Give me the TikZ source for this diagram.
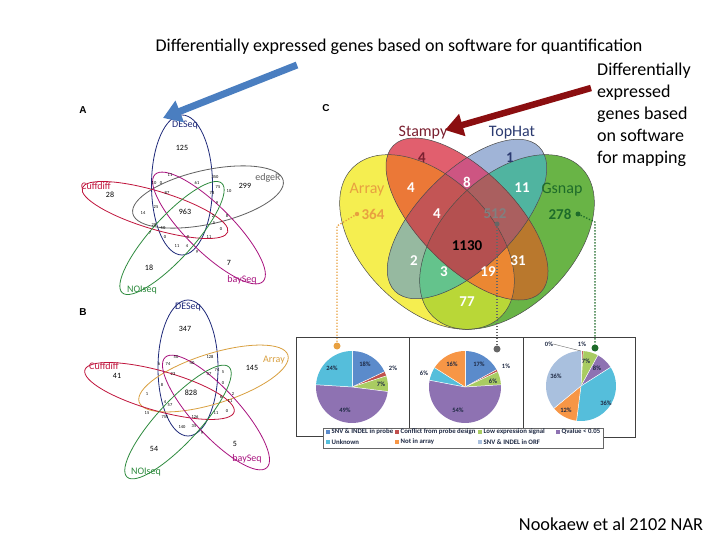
\documentclass[tikz,border=0pt]{standalone}
\usepackage{fontspec}
\setmainfont{Carlito}
\newfontfamily\lettersf{Liberation Sans}
\usetikzlibrary{arrows.meta}
\definecolor{navyv}{HTML}{1F2A7A}
\definecolor{grayv}{HTML}{606060}
\definecolor{crimv}{HTML}{C0143C}
\definecolor{magv}{HTML}{A8127E}
\definecolor{greenv}{HTML}{2E8B3E}
\definecolor{goldv}{HTML}{D9A040}
% venn C region colours
\definecolor{rA}{HTML}{F5EE50}
\definecolor{rD}{HTML}{69B446}
\definecolor{rB}{HTML}{E15F6E}
\definecolor{rC}{HTML}{A0B4D7}
\definecolor{rAD}{HTML}{B9D737}
\definecolor{rAB}{HTML}{EB7837}
\definecolor{rBC}{HTML}{CD5582}
\definecolor{rCD}{HTML}{50B4A0}
\definecolor{rAC}{HTML}{96B9A0}
\definecolor{rBD}{HTML}{B9782D}
\definecolor{rABC}{HTML}{C35555}
\definecolor{rBCD}{HTML}{AA5F5F}
\definecolor{rACD}{HTML}{64C38C}
\definecolor{rABD}{HTML}{EB8732}
\definecolor{rABCD}{HTML}{B45050}
\definecolor{cstampy}{HTML}{7A2030}
\definecolor{ctophat}{HTML}{2B3A70}
\definecolor{carray}{HTML}{E8A040}
\definecolor{cgsnap}{HTML}{1E6B2A}
\definecolor{snv}{HTML}{5B8BCB}
\definecolor{conf}{HTML}{C0504D}
\definecolor{low}{HTML}{A9CC62}
\definecolor{qv}{HTML}{8E72B2}
\definecolor{unk}{HTML}{55BEDB}
\definecolor{nia}{HTML}{F79646}
\definecolor{orf}{HTML}{A9C0DE}
\definecolor{pietext}{HTML}{1F2A44}
\definecolor{arrblue}{HTML}{4A7EC0}
\definecolor{arrred}{HTML}{8B0E10}
\newcommand{\mypie}[6]{%
  \fill[#6] (#1,#2) -- ++({-90+3.6*(#4)}:#3) arc[start angle={-90+3.6*(#4)}, end angle={-90+3.6*(#5)}, radius=#3] -- cycle;
  \draw[white, line width=0.5pt] (#1,#2) -- ++({-90+3.6*(#4)}:#3);}
% the four ellipses of panel C
\newcommand{\clipEA}{\clip[rotate around={-45:(427,242)}] (427,242) ellipse [x radius=105, y radius=65];}
\newcommand{\clipED}{\clip[rotate around={45:(507,242)}] (507,242) ellipse [x radius=105, y radius=65];}
\newcommand{\clipEB}{\clip[rotate around={-45:(467,219)}] (467,219) ellipse [x radius=104, y radius=48];}
\newcommand{\clipEC}{\clip[rotate around={45:(467,219)}] (467,219) ellipse [x radius=102, y radius=48];}
\newcommand{\paintall}[1]{\fill[#1] (300,100) rectangle (650,360);}
\tikzset{
  vline/.style={line width=0.8pt},
  vlab/.style={font=\fontsize{10}{11}\selectfont, inner sep=0pt},
  vnum/.style={font=\fontsize{8}{9}\selectfont, inner sep=0pt},
  vtiny/.style={font=\fontsize{4.5}{5}\selectfont, inner sep=0pt},
  clab/.style={font=\fontsize{16}{17}\selectfont, inner sep=0pt},
  cnum/.style={font=\bfseries\fontsize{15}{16}\selectfont, inner sep=0pt},
  plab/.style={font=\bfseries\fontsize{6.5}{7}\selectfont, inner sep=0pt, text=pietext},
  legtxt/.style={font=\bfseries\fontsize{6.8}{7}\selectfont, inner sep=0pt, anchor=west, text=pietext},
  panel/.style={font=\lettersf\bfseries\fontsize{10}{11}\selectfont, inner sep=0pt},
  bigarrow/.style={line width=7pt, -{Triangle[width=22pt,length=18pt]}},
  dotconn/.style={line width=1.3pt, dash pattern=on 1.3pt off 1.7pt},
  frame/.style={draw=black!75, line width=0.8pt},
  head/.style={font=\fontsize{18}{22}\selectfont, inner sep=0pt},
  eline/.style={draw=black!70, line width=0.5pt},
}
\begin{document}
\begin{tikzpicture}[x=1pt,y=-1pt]
\fill[white] (0,0) rectangle (720,540);
\useasboundingbox (0,0) rectangle (720,540);

% ---------- headings ----------
\node[head] (t1) at (399,47) {Differentially expressed genes based on software for quantification};
\node[head, anchor=base west] (m1) at (597,76) {Differentially};
\node[head, anchor=base west] (m2) at (597,98) {expressed};
\node[head, anchor=base west] (m3) at (597,120) {genes based};
\node[head, anchor=base west] (m4) at (597,142) {on software};
\node[head, anchor=base west] (m5) at (597,164) {for mapping};
\node[font=\fontsize{18.3}{20}\selectfont, inner sep=0pt] (ref) at (611,524) {Nookaew et al 2102 NAR};

% ---------- panel A ----------
\node[panel] (pA) at (83,110) {A};
\draw[vline, navyv] (182,185) ellipse [x radius=30.5, y radius=70];
\draw[vline, grayv, rotate around={12.4:(208,197)}] (208,197) ellipse [x radius=77, y radius=27];
\draw[vline, crimv, rotate around={-16.8:(155,210)}] (155,210) ellipse [x radius=76, y radius=19];
\draw[vline, magv, rotate around={-44.7:(209,228)}] (209,228) ellipse [x radius=76, y radius=23];
\draw[vline, greenv, rotate around={47.7:(172,238)}] (172,238) ellipse [x radius=74, y radius=21];
\node[vlab, text=navyv] (adeseq) at (185,125) {DESeq};
\node[vlab, text=grayv] (aedger) at (268,178) {edgeR};
\node[vlab, text=crimv] (acuff) at (96,186) {Cuffdiff};
\node[vlab, text=magv] (abay) at (242,280) {baySeq};
\node[vlab, text=greenv] (anoi) at (142,290) {NOIseq};
\node[vnum] (an1) at (182,148) {125};
\node[vnum] (an2) at (110,195) {28};
\node[vnum] (an3) at (245,186) {299};
\node[vnum] (an4) at (185,212) {963};
\node[vnum] (an5) at (149,268) {18};
\node[vnum] (an6) at (229,263) {7};
\foreach \x/\y/\t [count=\i] in {170/175/11, 154/183/10, 161/183/0, 197/183/61, 215/177/350, 218/187/75, 229/191/10, 167/193/87, 212/193/78, 156/207/25, 143/213/14, 217/203/9, 227/216/8, 213/216/2, 214/223/5, 154/225/28, 163/228/50, 150/233/7, 165/237/0, 188/237/0, 209/237/11, 221/229/0, 177/246/11, 187/246/4, 197/252/9}
  \node[vtiny] (at\i) at (\x,\y) {\t};

% ---------- panel B ----------
\node[panel] (pB) at (83,312) {B};
\draw[vline, navyv] (188,368) ellipse [x radius=30, y radius=68];
\draw[vline, goldv, rotate around={17.5:(213.5,378.5)}] (213.5,378.5) ellipse [x radius=78, y radius=25];
\draw[vline, crimv, rotate around={-15.7:(159.5,391)}] (159.5,391) ellipse [x radius=77.5, y radius=20];
\draw[vline, magv, rotate around={-47.4:(216,412.5)}] (216,412.5) ellipse [x radius=75, y radius=23];
\draw[vline, greenv, rotate around={47.2:(178,422)}] (178,422) ellipse [x radius=75, y radius=21];
\node[vlab, text=navyv] (bdeseq) at (188,307) {DESeq};
\node[vlab, text=goldv] (barray) at (274,360) {Array};
\node[vlab, text=crimv] (bcuff) at (104,366) {Cuffdiff};
\node[vlab, text=magv] (bbay) at (247,459) {baySeq};
\node[vlab, text=greenv] (bnoi) at (146,472) {NOIseq};
\node[vnum] (bn1) at (185,329) {347};
\node[vnum] (bn2) at (252,368) {145};
\node[vnum] (bn3) at (117,376) {41};
\node[vnum] (bn4) at (191,393) {828};
\node[vnum] (bn5) at (235,444) {5};
\node[vnum] (bn6) at (154,449) {54};
\foreach \x/\y/\t [count=\i] in {176/357/50, 210/357/128, 192/363/40, 159/364/6, 168/364/74, 173/374/23, 209/374/37, 217/370/74, 223/372/5, 162/385/8, 223/383/0, 147/394/1, 221/397/6, 233/394/2, 230/401/11, 165/402/4, 170/405/57, 227/411/0, 147/413/15, 165/417/755, 195/417/126, 216/413/11, 182/427/140, 194/426/35, 202/433/9}
  \node[vtiny] (bt\i) at (\x,\y) {\t};

% ---------- panel C ----------
\node[panel] (pC) at (326,108) {C};
% single sets
\begin{scope}\clipEA \paintall{rA}\end{scope}
\begin{scope}\clipED \paintall{rD}\end{scope}
\begin{scope}\clipEA \clipED \paintall{rAD}\end{scope}
\begin{scope}\clipEC \paintall{rC}\end{scope}
\begin{scope}\clipEC \clipEA \paintall{rAC}\end{scope}
\begin{scope}\clipEC \clipED \paintall{rCD}\end{scope}
\begin{scope}\clipEC \clipEA \clipED \paintall{rACD}\end{scope}
\begin{scope}\clipEB \paintall{rB}\end{scope}
\begin{scope}\clipEB \clipEA \paintall{rAB}\end{scope}
\begin{scope}\clipEB \clipEC \paintall{rBC}\end{scope}
\begin{scope}\clipEB \clipED \paintall{rBD}\end{scope}
\begin{scope}\clipEB \clipEA \clipEC \paintall{rABC}\end{scope}
\begin{scope}\clipEB \clipEC \clipED \paintall{rBCD}\end{scope}
\begin{scope}\clipEB \clipEA \clipED \paintall{rABD}\end{scope}
\begin{scope}\clipEB \clipEA \clipEC \clipED \paintall{rABCD}\end{scope}
\draw[eline, rotate around={-45:(427,242)}] (427,242) ellipse [x radius=105, y radius=65];
\draw[eline, rotate around={45:(507,242)}] (507,242) ellipse [x radius=105, y radius=65];
\draw[eline, rotate around={45:(467,219)}] (467,219) ellipse [x radius=102, y radius=48];
\draw[eline, rotate around={-45:(467,219)}] (467,219) ellipse [x radius=104, y radius=48];

\node[clab, text=cstampy] (stampy) at (423,133) {Stampy};
\node[clab, text=ctophat] (tophat) at (512,133) {TopHat};
\node[clab, text=carray] (carr) at (367,190) {Array};
\node[clab, text=cgsnap] (gsnap) at (562,190) {Gsnap};
\node[cnum, text=cstampy] (c1) at (422,158) {4};
\node[cnum, text=ctophat] (c2) at (510,158) {1};
\node[cnum, text=white] (c3) at (411,188) {4};
\node[cnum, text=white] (c4) at (467,182) {8};
\node[cnum, text=white] (c5) at (522,188) {11};
\node[cnum, text=white] (c6) at (437,214) {4};
\node[cnum, text=black!50] (c7) at (495,214) {512};
\node[cnum, text=black] (c8) at (467,246) {1130};
\node[cnum, text=white] (c9) at (414,261) {2};
\node[cnum, text=white] (c10) at (518,261) {31};
\node[cnum, text=white] (c11) at (444,272) {3};
\node[cnum, text=white] (c12) at (488,272) {19};
\node[cnum, text=white] (c13) at (467,302) {77};
\node[cnum, text=carray] (c14) at (373,214) {364};
\node[cnum, text=cgsnap] (c15) at (560,214) {278};

% arrows from headings
\coordinate (btail) at (297,65);
\coordinate (bhead) at (163,118);
\coordinate (rtail) at (591,88);
\coordinate (rhead) at (445,130);
\draw[bigarrow, arrblue] (btail) -- (bhead);
\draw[bigarrow, arrred, line width=6.5pt] (rtail) -- (rhead);

% connectors to pies
\coordinate (od1) at (357,214);
\coordinate (ob) at (337,226);
\coordinate (gd1) at (497,224);
\coordinate (gnd1) at (578,214);
\coordinate (gnb) at (595,222);
\node[circle, fill=carray, inner sep=0pt, minimum size=7pt] (od2) at (337,346) {};
\node[circle, fill=black!60, inner sep=0pt, minimum size=7pt] (gd2) at (497,349) {};
\node[circle, fill=cgsnap, inner sep=0pt, minimum size=7pt] (gnd2) at (595,348) {};
\fill[carray] (od1) circle (2.2);
\fill[black!60] (gd1) circle (2.5);
\fill[cgsnap] (gnd1) circle (2.5);
\draw[dotconn, carray] (od1) -- (ob) -- (od2);
\draw[dotconn, black!60] (gd1) -- (gd2);
\draw[dotconn, cgsnap] (gnd1) -- (gnb) -- (gnd2);

% ---------- pie panel ----------
\draw[frame] (296,337) rectangle (409,436);
\draw[frame] (409,337) rectangle (523,436);
\draw[frame] (523,337) rectangle (635,437);

% pie 1
\mypie{352}{387}{36}{0}{18}{snv}
\mypie{352}{387}{36}{18}{20}{conf}
\mypie{352}{387}{36}{20}{27}{low}
\mypie{352}{387}{36}{27}{76}{qv}
\mypie{352}{387}{36}{76}{100}{unk}
\node[plab] (p11) at (365,364) {18\%};
\node[plab] (p12) at (332,368) {24\%};
\node[plab] (p13) at (393,368) {2\%};
\node[plab] (p14) at (381,384) {7\%};
\node[plab] (p15) at (345,410) {49\%};

% pie 2
\mypie{465}{387}{36}{0}{17}{snv}
\mypie{465}{387}{36}{17}{18}{conf}
\mypie{465}{387}{36}{18}{24}{low}
\mypie{465}{387}{36}{24}{78}{qv}
\mypie{465}{387}{36}{78}{84}{unk}
\mypie{465}{387}{36}{84}{100}{nia}
\node[plab] (p21) at (452,364) {16\%};
\node[plab] (p22) at (479,364) {17\%};
\node[plab] (p23) at (506,366) {1\%};
\node[plab] (p24) at (493,381) {6\%};
\node[plab] (p25) at (458,410) {54\%};
\node[plab] (p26) at (424,373) {6\%};

% pie 3
\mypie{581}{386}{35}{0}{1}{conf}
\mypie{581}{386}{35}{1}{8}{low}
\mypie{581}{386}{35}{8}{16}{qv}
\mypie{581}{386}{35}{16}{52}{unk}
\mypie{581}{386}{35}{52}{64}{nia}
\mypie{581}{386}{35}{64}{100}{orf}
\node[plab] (p31) at (549,344) {0\%};
\node[plab] (p32) at (582,344) {1\%};
\node[plab] (p33) at (586,361) {7\%};
\node[plab] (p34) at (597,368) {8\%};
\node[plab] (p35) at (606,403) {36\%};
\node[plab] (p36) at (566,410) {12\%};
\node[plab] (p37) at (556,376) {36\%};
\draw[black!60, line width=0.4pt] (p31.east) -- (581,351);

% legend
\draw[fill=white, draw=black!60, line width=0.6pt] (323,428) rectangle (603,448);
\foreach \x/\y/\c/\t [count=\i] in {326/432/snv/{SNV \& INDEL in probe}, 395/432/conf/{Conflict from probe design}, 478/432/low/{Low expression signal}, 556/432/qv/{Qvalue < 0.05}, 326/442/unk/{Unknown}, 395/442/nia/{Not in array}, 478/442/orf/{SNV \& INDEL in ORF}}
{
  \fill[\c] (\x,\y-2) rectangle ++(3.5,3.5);
  \node[legtxt] (lg\i) at (\x+5.5,\y) {\t};
}
\end{tikzpicture}
\end{document}
